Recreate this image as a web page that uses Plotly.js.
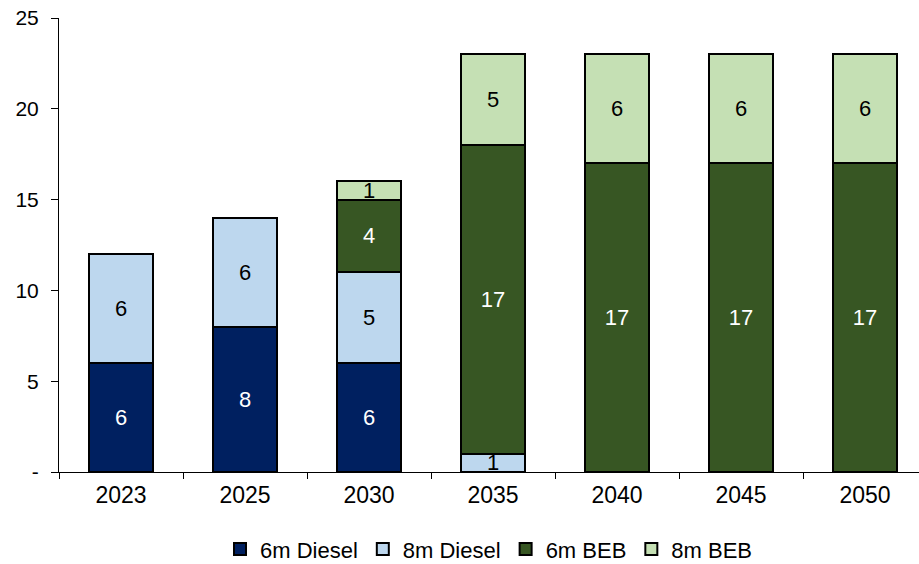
<!DOCTYPE html>
<html>
<head>
<meta charset="utf-8">
<script src="https://cdn.plot.ly/plotly-3.0.1.min.js"></script>
<style>html,body{margin:0;padding:0;background:#fff;}#chart{width:919px;height:564px;}</style>
</head>
<body>
<div id="chart"></div>
<script>
var years = ["2023", "2025", "2030", "2035", "2040", "2045", "2050"];
var diesel6m = [6, 8, 6, null, null, null, null];
var diesel8m = [6, 6, 5, 1, null, null, null];
var beb6m = [null, null, 4, 17, 17, 17, 17];
var beb8m = [null, null, 1, 5, 6, 6, 6];
var seriesNames = ["6m Diesel", "8m Diesel", "6m BEB", "8m BEB"];
var yTickVals = [0, 5, 10, 15, 20, 25];
var yTickText = ["-", "5", "10", "15", "20", "25"];

var colors = ["#002060", "#BDD7EE", "#375623", "#C5E0B4"];
var textColors = ["#ffffff", "#000000", "#ffffff", "#000000"];
var FONT = "Arial, 'Liberation Sans', sans-serif";

function mk(vals, i) {
  return {
    type: "bar",
    name: seriesNames[i],
    x: years,
    y: vals,
    text: vals.map(function (v) { return v === null ? "" : String(v); }),
    textposition: "inside",
    insidetextanchor: "middle",
    textangle: 0,
    constraintext: "none",
    insidetextfont: {family: FONT, size: 22, color: textColors[i]},
    marker: {color: colors[i], line: {color: "#000000", width: 2}},
    hoverinfo: "none"
  };
}

var data = [mk(diesel6m, 0), mk(diesel8m, 1), mk(beb6m, 2), mk(beb8m, 3)];

var layout = {
  width: 919,
  height: 564,
  margin: {l: 59, r: 0, t: 18, b: 92, autoexpand: false},
  paper_bgcolor: "#ffffff",
  plot_bgcolor: "#ffffff",
  barmode: "stack",
  bargap: 0.49,
  font: {family: FONT, size: 22, color: "#000000"},
  showlegend: true,
  legend: {
    orientation: "h",
    x: 0.5, xanchor: "center",
    y: -0.17, yanchor: "middle",
    font: {family: FONT, size: 22, color: "#000000"},
    traceorder: "normal",
    itemwidth: 30
  },
  xaxis: {
    type: "category",
    range: [-0.5, 6.435],
    showline: true, linecolor: "#000000", linewidth: 1,
    ticks: "outside", tickson: "boundaries", ticklen: 6, tickcolor: "#000000",
    showgrid: false, zeroline: false,
    ticklabelstandoff: 2,
    tickfont: {family: FONT, size: 23, color: "#000000"}
  },
  yaxis: {
    range: [0, 25],
    tickvals: yTickVals,
    ticktext: yTickText,
    showline: true, linecolor: "#000000", linewidth: 1,
    ticks: "outside", ticklen: 7, tickcolor: "#000000",
    showgrid: false, zeroline: false,
    ticklabelstandoff: 8,
    tickfont: {family: FONT, size: 21, color: "#000000"}
  }
};

Plotly.newPlot("chart", data, layout, {staticPlot: true, displayModeBar: false});
</script>
</body>
</html>
